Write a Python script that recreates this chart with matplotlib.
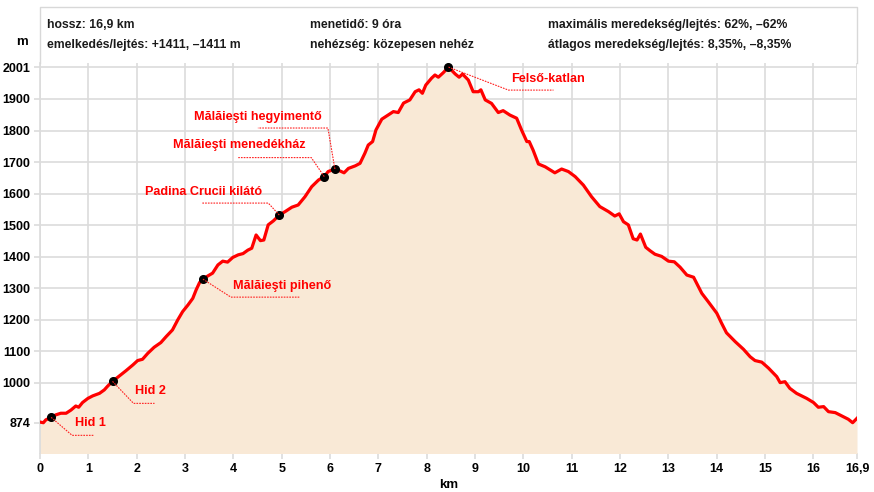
import numpy as np
import matplotlib
matplotlib.use("Agg")
import matplotlib.pyplot as plt
from matplotlib.lines import Line2D
from matplotlib.transforms import IdentityTransform

plt.rcParams["font.family"] = ["Liberation Sans", "DejaVu Sans"]

# elevation profile (km, m)
km = [0.00, 0.07, 0.12, 0.23, 0.33, 0.43, 0.54, 0.64, 0.74, 0.80, 0.88, 0.99, 1.09, 1.23, 1.33, 1.40,
      1.50, 1.64, 1.78, 1.92, 2.02, 2.12, 2.23, 2.36, 2.50, 2.61, 2.74, 2.85, 2.95, 3.06, 3.16, 3.23,
      3.30, 3.37, 3.47, 3.57, 3.68, 3.78, 3.88, 3.99, 4.10, 4.20, 4.30, 4.38, 4.47, 4.56, 4.63, 4.72,
      4.83, 4.95, 5.07, 5.21, 5.34, 5.48, 5.62, 5.76, 5.88, 5.96, 6.10, 6.19, 6.29, 6.38, 6.52, 6.62,
      6.72, 6.79, 6.88, 6.95, 7.07, 7.17, 7.31, 7.41, 7.52, 7.65, 7.76, 7.84, 7.91, 7.98, 8.10, 8.17,
      8.24, 8.34, 8.45, 8.59, 8.67, 8.74, 8.86, 8.96, 9.07, 9.12, 9.21, 9.34, 9.48, 9.58, 9.72, 9.86,
      9.96, 10.07, 10.12, 10.20, 10.31, 10.45, 10.65, 10.79, 10.93, 11.07, 11.24, 11.41, 11.58, 11.76,
      11.89, 11.98, 12.07, 12.17, 12.27, 12.35, 12.42, 12.53, 12.62, 12.72, 12.86, 13.00, 13.12, 13.24,
      13.38, 13.52, 13.69, 13.82, 14.00, 14.10, 14.20, 14.38, 14.55, 14.69, 14.79, 14.93, 15.07, 15.24,
      15.31, 15.41, 15.51, 15.65, 15.86, 16.00, 16.10, 16.21, 16.31, 16.45, 16.59, 16.72, 16.81, 16.90]
elev = [876, 874, 883, 891, 899, 904, 904, 914, 927, 923, 938, 951, 959, 967, 978, 990,
        1005, 1022, 1039, 1057, 1071, 1075, 1094, 1113, 1128, 1147, 1168, 1200, 1226, 1247, 1268, 1295,
        1318, 1329, 1339, 1348, 1374, 1386, 1383, 1398, 1406, 1410, 1421, 1427, 1469, 1451, 1453, 1501,
        1514, 1532, 1543, 1557, 1564, 1590, 1622, 1643, 1654, 1670, 1678, 1673, 1666, 1680, 1688, 1696,
        1728, 1754, 1765, 1802, 1836, 1846, 1860, 1857, 1887, 1897, 1923, 1929, 1918, 1944, 1966, 1976,
        1969, 1983, 2001, 1979, 1969, 1979, 1960, 1923, 1923, 1929, 1897, 1886, 1857, 1863, 1849, 1839,
        1802, 1765, 1765, 1738, 1694, 1685, 1666, 1678, 1670, 1654, 1627, 1590, 1559, 1543,
        1529, 1536, 1511, 1501, 1457, 1453, 1472, 1430, 1419, 1408, 1401, 1386, 1384, 1367,
        1342, 1335, 1284, 1258, 1221, 1189, 1159, 1131, 1107, 1083, 1071, 1066, 1047, 1020,
        1001, 1004, 983, 967, 951, 938, 923, 925, 909, 906, 895, 885, 874, 888]

# waypoints
poi_names = ["Hid 1", "Hid 2", "Mălăieşti pihenő", "Padina Crucii kilátó",
             "Mălăieşti menedékház", "Mălăieşti hegyimentő", "Felső-katlan"]
poi_km = [0.23, 1.50, 3.37, 4.95, 5.88, 6.10, 8.45]
poi_elev = [891, 1005, 1329, 1532, 1654, 1678, 2001]
# pixel offsets from the dot: leader corner, leader end, text anchor (x right, y down)
poi_layout = [
    ((21, 18), (43, 18), (24, 6), "left"),
    ((21, 22), (42, 22), (22, 10), "left"),
    ((28, 18), (97, 18), (30, 7), "left"),
    ((-11, -12), (-78, -12), (-17, -23), "right"),
    ((-13, -19), (-86, -19), (-19, -32), "right"),
    ((-7, -41), (-77, -41), (-13, -52), "right"),
    ((60, 23), (105, 23), (63, 12), "left"),
]

yticks = [874, 1000, 1100, 1200, 1300, 1400, 1500, 1600, 1700, 1800, 1900, 2001]
xticks = list(range(17)) + [16.9]
xtick_labels = [str(i) for i in range(17)] + ["16,9"]

header = [
    (47, 25, "hossz: 16,9 km"),
    (47, 45, "emelkedés/lejtés: +1411, \u20131411 m"),
    (310, 25, "menetidő: 9 óra"),
    (310, 45, "nehézség: közepesen nehéz"),
    (548, 25, "maximális meredekség/lejtés: 62%, \u201362%"),
    (548, 45, "átlagos meredekség/lejtés: 8,35%, \u20138,35%"),
]

W, H = 874, 492
fig = plt.figure(figsize=(W / 100, H / 100), dpi=100)
ax = fig.add_axes([40 / W, 1 - 453 / H, (857 - 40) / W, (453 - 63) / H])

grid_c = "#dcdcdc"
ax.fill_between(km, elev, 700, color="#f9e9d6", lw=0, zorder=1)
ax.plot(km, elev, color="#ff0000", lw=2.3, zorder=3, solid_joinstyle="round")
ax.plot(poi_km, poi_elev, "o", color="black", ms=5.5, zorder=4)

ax.set_xlim(0, 16.9)
ax.set_ylim(778, 2014)
ax.set_xticks(xticks)
ax.set_xticklabels(xtick_labels)
ax.set_yticks(yticks)
ax.set_yticklabels([str(v) for v in yticks])
ax.grid(True, color=grid_c, lw=1.2, zorder=0)
ax.set_axisbelow(True)
ax.tick_params(axis="both", length=4, width=1.2, color=grid_c, pad=3, labelsize=9)
for lab in ax.get_xticklabels() + ax.get_yticklabels():
    lab.set_fontweight("bold")
for s in ["top", "right", "bottom"]:
    ax.spines[s].set_visible(False)
ax.spines["left"].set_color(grid_c)
ax.spines["left"].set_linewidth(1.2)
ax.set_xlabel("km", fontweight="bold", fontsize=9.5, labelpad=3)

# leaders and labels
fig.canvas.draw()
for name, x, y, (c, e, t, ha) in zip(poi_names, poi_km, poi_elev, poi_layout):
    px, py = ax.transData.transform((x, y))
    xs = [px, px + c[0], px + e[0]]
    ys = [py, py - c[1], py - e[1]]
    fig.add_artist(Line2D(xs, ys, transform=IdentityTransform(), color="#ff2020",
                          lw=0.8, ls=(0, (1.5, 1.0)), zorder=5))
    fig.text((px + t[0]) / W, (py - t[1]) / H, name, color="#ff0000", fontsize=9.1,
             fontweight="bold", ha=ha, va="center")

# header box
box_c = "#d8d8d8"
fig.add_artist(Line2D([40 / W, 40 / W, 857 / W, 857 / W],
                      [1 - 63 / H, 1 - 7 / H, 1 - 7 / H, 1 - 63 / H],
                      transform=fig.transFigure, color=box_c, lw=1))
for x, y, s in header:
    fig.text(x / W, 1 - y / H, s, fontsize=8.8, fontweight="bold", color="#1a1a1a",
             ha="left", va="center")
fig.text(22 / W, 1 - 42 / H, "m", fontsize=9.5, fontweight="bold", ha="center", va="center")

fig.savefig("out.png", dpi=100)
